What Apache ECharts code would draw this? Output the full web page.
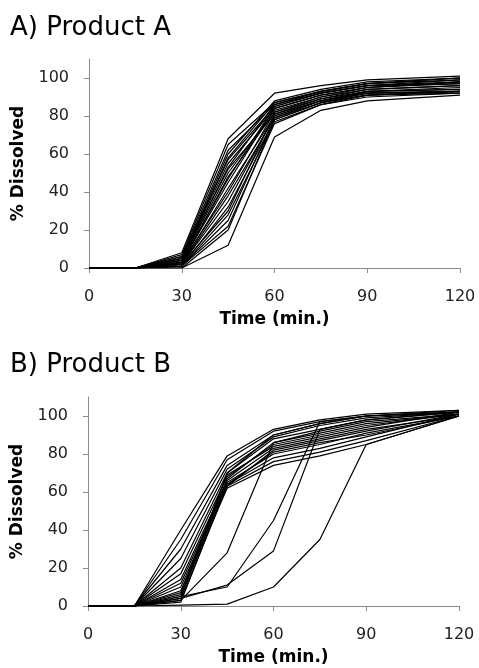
<!DOCTYPE html>
<html>
<head>
<meta charset="utf-8">
<title>Dissolution profiles</title>
<script src="https://cdn.jsdelivr.net/npm/echarts@6/dist/echarts.min.js"></script>
<style>
  html, body { margin: 0; padding: 0; background: #fff; }
  #main { width: 479px; height: 668px; }
</style>
</head>
<body>
<div id="main"></div>
<script type="text/javascript">
// sampling times (min.)
var times = [0, 15, 30, 45, 60, 75, 90, 120];
var xTicks = [0, 30, 60, 90, 120];
var yTicks = [0, 20, 40, 60, 80, 100];
var titles = ['A) Product A', 'B) Product B'];

// % dissolved for each unit, one row per vessel
var productA = [
    [0, 0, 8, 68, 92, 96, 99, 101],
    [0, 0, 7, 65, 87, 93, 97, 100],
    [0, 0, 6, 62, 86, 93, 97, 99],
    [0, 0, 5, 60, 88, 94, 98, 100],
    [0, 0, 6, 57, 85, 92, 96, 99],
    [0, 0, 5, 55, 84, 91, 95, 98],
    [0, 0, 4, 53, 86, 92, 96, 97],
    [0, 0, 4, 50, 83, 90, 94, 96],
    [0, 0, 3, 48, 82, 89, 93, 94],
    [0, 0, 5, 52, 81, 88, 92, 93],
    [0, 0, 3, 45, 84, 91, 95, 98],
    [0, 0, 2, 42, 80, 88, 92, 93],
    [0, 0, 3, 40, 82, 90, 95, 97],
    [0, 0, 2, 38, 79, 87, 91, 92],
    [0, 0, 2, 35, 80, 88, 93, 95],
    [0, 0, 1, 32, 78, 87, 91, 93],
    [0, 0, 2, 30, 81, 89, 94, 96],
    [0, 0, 1, 28, 77, 86, 90, 92],
    [0, 0, 1, 25, 79, 88, 93, 94],
    [0, 0, 1, 22, 76, 86, 91, 93],
    [0, 0, 0, 20, 78, 87, 92, 93],
    [0, 0, 0, 12, 69, 83, 88, 91],
    [0, 0, 4, 58, 87, 93, 97, 100],
    [0, 0, 3, 47, 85, 92, 96, 98]
];

var productB = [
    [0, 0, 40, 79, 93, 98, 101, 103],
    [0, 0, 35, 77, 92, 97, 100, 102],
    [0, 0, 30, 74, 90, 96, 100, 103],
    [0, 0, 25, 72, 89, 95, 99, 102],
    [0, 0, 20, 70, 88, 93, 98, 102],
    [0, 0, 17, 68, 85, 90, 95, 101],
    [0, 0, 14, 66, 83, 88, 93, 100],
    [0, 0, 12, 65, 80, 85, 91, 100],
    [0, 0, 10, 64, 78, 83, 89, 101],
    [0, 0, 8, 63, 76, 81, 87, 100],
    [0, 0, 6, 62, 74, 79, 85, 100],
    [0, 0, 5, 70, 90, 96, 100, 102],
    [0, 0, 4, 67, 86, 91, 96, 101],
    [0, 0, 3, 63, 82, 87, 92, 101],
    [0, 0, 7, 69, 84, 89, 94, 102],
    [0, 0, 2, 64, 81, 86, 90, 100],
    [0, 0, 3, 28, 86, 92, 97, 101],
    [0, 0, 5, 10, 45, 97, 100, 102],
    [0, 0, 4, 11, 29, 93, 98, 102],
    [0, 0, 0.5, 1, 10, 35, 85, 100]
];

var myChart = echarts.init(document.getElementById('main'));

var axisGrey = '#8a8a8a';

function makeX(i) {
    return {
        type: 'value', gridIndex: i, min: 0, max: 120, interval: 30,
        name: 'Time (min.)', nameLocation: 'middle', nameGap: 43,
        nameTextStyle: { fontFamily: 'DejaVu Sans', fontWeight: 'bold', fontSize: 17, color: '#000' },
        axisLine: { lineStyle: { color: axisGrey, width: 1 } },
        axisTick: { length: 5, lineStyle: { color: axisGrey } },
        axisLabel: { margin: 21, fontFamily: 'DejaVu Sans', fontSize: 16, color: '#222',
            customValues: xTicks },
        splitLine: { show: false }
    };
}

function makeY(i) {
    return {
        type: 'value', gridIndex: i, min: 0, max: 110, interval: 10,
        name: '% Dissolved', nameLocation: 'middle', nameGap: 58, nameRotate: 90,
        nameTextStyle: { fontFamily: 'DejaVu Sans', fontWeight: 'bold', fontSize: 17, color: '#000' },
        axisLine: { show: true, lineStyle: { color: axisGrey, width: 1 } },
        axisTick: { show: true, length: 5, lineStyle: { color: axisGrey }, customValues: yTicks },
        axisLabel: { margin: 20, fontFamily: 'DejaVu Sans', fontSize: 16, color: '#222',
            customValues: yTicks },
        splitLine: { show: false }
    };
}

function makeSeries(rows, i) {
    return rows.map(function (row) {
        return {
            type: 'line', xAxisIndex: i, yAxisIndex: i,
            data: row.map(function (v, k) { return [times[k], v]; }),
            symbol: 'none', silent: true,
            lineStyle: { color: '#000', width: 1.2 }
        };
    });
}

var option = {
    animation: false,
    backgroundColor: '#fff',
    title: [
        { text: titles[0], left: 10, top: 15, padding: 0,
          textStyle: { fontFamily: 'DejaVu Sans', fontWeight: 'normal', fontSize: 26, color: '#000' } },
        { text: titles[1], left: 10, top: 352, padding: 0,
          textStyle: { fontFamily: 'DejaVu Sans', fontWeight: 'normal', fontSize: 26, color: '#000' } }
    ],
    grid: [
        { left: 89, right: 19, top: 59, height: 209 },
        { left: 88, right: 20, top: 397, height: 209 }
    ],
    xAxis: [makeX(0), makeX(1)],
    yAxis: [makeY(0), makeY(1)],
    series: makeSeries(productA, 0).concat(makeSeries(productB, 1))
};

myChart.setOption(option);
</script>
</body>
</html>
